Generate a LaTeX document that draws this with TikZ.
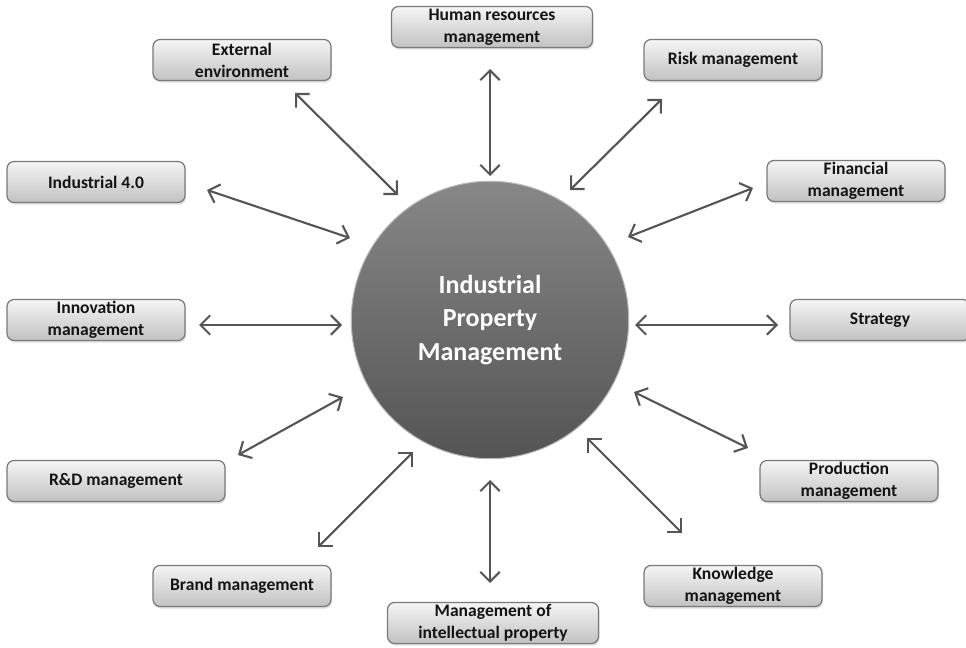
\documentclass[tikz,border=0pt]{standalone}
\usepackage{fontspec}
\setmainfont{Carlito}
\usetikzlibrary{arrows.meta, shadows}
\definecolor{linkgray}{HTML}{555555}
\definecolor{boxedge}{HTML}{7A7A7A}
\tikzset{
    topic/.style={
        rectangle, draw=boxedge, line width=0.7pt, rounded corners=4pt,
        minimum width=3.56cm, minimum height=0.82cm, inner sep=1pt,
        top color=gray!8, bottom color=gray!48, align=center,
        drop shadow={opacity=0.25, shadow xshift=0.6pt, shadow yshift=-1.2pt},
        font=\fontsize{10}{12.5}\selectfont\bfseries, text=black!92
    },
    hub/.style={
        circle, draw=gray!55, line width=0.6pt, minimum size=5.55cm,
        top color=black!47, bottom color=black!67, align=center,
        font=\fontsize{14.8}{19}\selectfont\bfseries, text=white
    },
    link/.style={draw=linkgray, line width=1.2pt,
        {Straight Barb[length=5.5pt, width=11pt]}-{Straight Barb[length=5.5pt, width=11pt]}}
}

\begin{document}
\begin{tikzpicture}[x=0.02cm, y=-0.02cm]
\useasboundingbox (0,0) rectangle (966,648);

% Central circle
\node[hub] (ipm) at (490,320) {Industrial\\Property\\Management};

% Surrounding topics
\node[topic, minimum width=4.02cm] (hr) at (492,27) {Human resources\\management};
\node[topic] (ext) at (242,60) {External\\environment};
\node[topic] (risk) at (733,60) {Risk management};
\node[topic] (ind) at (96,182) {Industrial 4.0};
\node[topic] (fin) at (856,181) {Financial\\management};
\node[topic] (inno) at (96,320) {Innovation\\management};
\node[topic, minimum width=3.6cm] (strat) at (880,320) {Strategy};
\node[topic, minimum width=4.36cm] (rnd) at (116,481) {R\&D management};
\node[topic] (prod) at (849,481) {Production\\management};
\node[topic] (brand) at (242,586) {Brand management};
\node[topic] (know) at (733,586) {Knowledge\\management};
\node[topic, minimum width=4.22cm] (mip) at (493,623) {Management of\\intellectual property};

% Arrow ends
\coordinate (hr-a) at (490,69);     \coordinate (hr-b) at (490,176);
\coordinate (ext-a) at (295,93);    \coordinate (ext-b) at (398,195);
\coordinate (risk-a) at (662,99);   \coordinate (risk-b) at (570,190);
\coordinate (ind-a) at (207,190);   \coordinate (ind-b) at (350,238);
\coordinate (fin-a) at (753,188);   \coordinate (fin-b) at (628,237);
\coordinate (inno-a) at (199,325);  \coordinate (inno-b) at (342,325);
\coordinate (strat-a) at (778,325); \coordinate (strat-b) at (635,325);
\coordinate (rnd-a) at (238,455);   \coordinate (rnd-b) at (343,397);
\coordinate (prod-a) at (748,448);  \coordinate (prod-b) at (634,392);
\coordinate (brand-a) at (318,547); \coordinate (brand-b) at (413,452);
\coordinate (know-a) at (682,533);  \coordinate (know-b) at (587,438);
\coordinate (mip-a) at (490,583);   \coordinate (mip-b) at (490,480);

% Two-way links
\foreach \t in {hr, ext, risk, ind, fin, inno, strat, rnd, prod, brand, know, mip}
    \draw[link] (\t-a) -- (\t-b);

\end{tikzpicture}
\end{document}
